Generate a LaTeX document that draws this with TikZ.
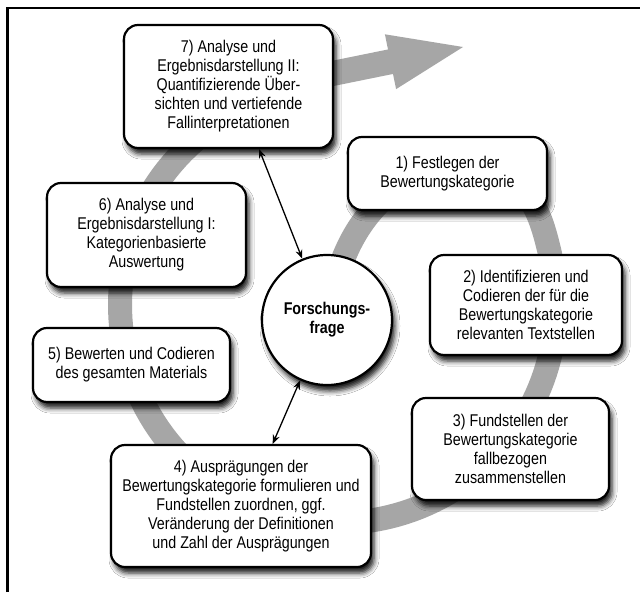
\documentclass[tikz,border=0pt]{standalone}
\usepackage{fontspec}
\setmainfont[FakeStretch=0.84]{Liberation Sans}
\usetikzlibrary{arrows.meta,shadows.blur}
\definecolor{ringgray}{RGB}{166,166,166}
\begin{document}
\begin{tikzpicture}[x=1pt,y=-1pt,
  myshadow/.style={blur shadow={shadow xshift=3pt, shadow yshift=-6pt, shadow blur radius=5pt, shadow opacity=90}},
  stepbox/.style={draw=black, line width=2.2pt, rounded corners=14pt, fill=white, align=center, inner sep=0pt, font=\fontsize{17}{19}\selectfont, myshadow},
  qcircle/.style={circle, draw=black, line width=2.2pt, fill=white, align=center, inner sep=0pt, minimum size=130pt, font=\fontsize{17}{19}\selectfont\bfseries, myshadow},
  link/.style={{Stealth[length=9pt,width=7pt]}-{Stealth[length=9pt,width=7pt]}, line width=1.3pt},
  ring/.style={draw=ringgray, line width=24pt, line join=round}
]
\useasboundingbox (0,0) rectangle (640,592);
\fill[white] (0,0) rectangle (640,592);
% frame
\draw[line width=2.5pt] (7.5,592) -- (7.5,8) -- (640,8);
% gray cycle
\draw[ring] (332,300) .. controls (345,220) and (400,168) .. (458,167)
  .. controls (525,166) and (539,206) .. (550.2,254.8)
  -- plot[domain=-13.3:235, samples=120, variable=\t] ({338+218*cos(\t)},{305+218*sin(\t)});
% outgoing arrow
\fill[ringgray] (244.9,78.55) -- (388.0,49.45) -- (384.9,34.3) -- (463,47) -- (396.1,89.1) -- (393.0,73.95) -- (249.9,103.05) -- cycle;
% nodes
\node[stepbox, minimum width=209pt, minimum height=123pt] (b7) at (228.5,86.5)
  {7) Analyse und\\Ergebnisdarstellung II:\\Quantifizierende Über-\\sichten und vertiefende\\Fallinterpretationen};
\node[stepbox, minimum width=199pt, minimum height=73pt] (b1) at (447.5,173.5)
  {1) Festlegen der\\Bewertungskategorie};
\node[stepbox, minimum width=199pt, minimum height=104pt] (b6) at (146.5,235)
  {6) Analyse und\\Ergebnisdarstellung I:\\Kategorienbasierte\\Auswertung};
\node[stepbox, minimum width=192pt, minimum height=100pt] (b2) at (526,305)
  {2) Identifizieren und\\Codieren der für die\\Bewertungskategorie\\relevanten Textstellen};
\node[stepbox, minimum width=197pt, minimum height=74pt] (b5) at (131.5,365)
  {5) Bewerten und Codieren\\des gesamten Materials};
\node[stepbox, minimum width=197pt, minimum height=102pt] (b3) at (510.5,449)
  {3) Fundstellen der\\Bewertungskategorie\\fallbezogen\\zusammenstellen};
\node[stepbox, minimum width=260pt, minimum height=122pt] (b4) at (241,506)
  {4) Ausprägungen der\\Bewertungskategorie formulieren und\\Fundstellen zuordnen, ggf.\\Veränderung der Definitionen\\und Zahl der Ausprägungen};
\node[qcircle] (ff) at (327,320) {Forschungs-\\frage};
% links
\draw[link] (b7.-64) -- (ff.112);
\draw[link] (b4.63) -- (ff.-114);
\end{tikzpicture}
\end{document}
